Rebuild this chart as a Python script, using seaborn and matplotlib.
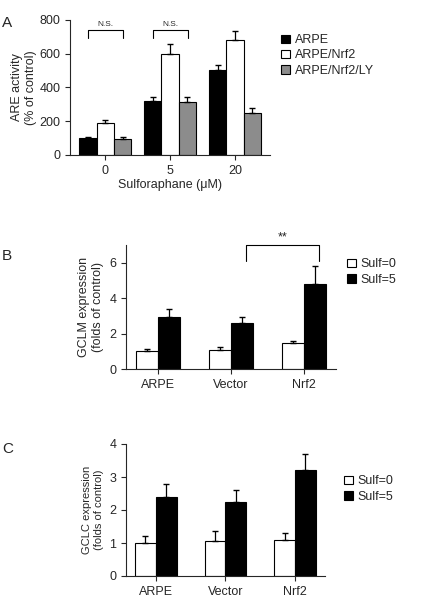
import matplotlib
matplotlib.use("Agg")
import matplotlib.pyplot as plt
import seaborn as sns
import pandas as pd

sns.set_style("ticks")
plt.rcParams['font.family'] = ['Liberation Sans', 'DejaVu Sans']

# Panel A
a_doses = ["0", "5", "20"]
a_groups = ["ARPE", "ARPE/Nrf2", "ARPE/Nrf2/LY"]
a_vals = {"ARPE": [100, 320, 500], "ARPE/Nrf2": [190, 600, 680], "ARPE/Nrf2/LY": [95, 310, 250]}
a_err = {"ARPE": [8, 25, 35], "ARPE/Nrf2": [15, 55, 55], "ARPE/Nrf2/LY": [12, 30, 25]}
a_colors = ["black", "white", "#8c8c8c"]

# Panel B
b_cats = ["ARPE", "Vector", "Nrf2"]
b_groups = ["Sulf=0", "Sulf=5"]
b_vals = {"Sulf=0": [1.0, 1.05, 1.45], "Sulf=5": [2.95, 2.6, 4.8]}
b_err = {"Sulf=0": [0.1, 0.2, 0.12], "Sulf=5": [0.45, 0.35, 1.0]}

# Panel C
c_vals = {"Sulf=0": [1.0, 1.05, 1.1], "Sulf=5": [2.4, 2.25, 3.2]}
c_err = {"Sulf=0": [0.2, 0.3, 0.2], "Sulf=5": [0.4, 0.35, 0.5]}
bc_colors = ["white", "black"]

fig = plt.figure(figsize=(4.39, 6), dpi=100)
axA = fig.add_axes([0.16, 0.742, 0.455, 0.225])
axB = fig.add_axes([0.287, 0.385, 0.478, 0.207])
axC = fig.add_axes([0.287, 0.04, 0.453, 0.22])

legkw = dict(frameon=False, fontsize=9, handlelength=0.7, handleheight=0.7,
             labelspacing=0.25, handletextpad=0.4, borderaxespad=0)

def draw(ax, cats, groups, vals, errs, colors, width):
    df = pd.DataFrame([(c, g, vals[g][i]) for g in groups for i, c in enumerate(cats)],
                      columns=["cat", "grp", "val"])
    sns.barplot(data=df, x="cat", y="val", hue="grp", hue_order=groups, order=cats,
                palette=colors, edgecolor="black", linewidth=0.8, errorbar=None,
                width=width, ax=ax, saturation=1)
    for gi, g in enumerate(groups):
        cont = ax.containers[gi]
        for i, p in enumerate(cont.patches):
            x = p.get_x() + p.get_width() / 2
            ax.errorbar(x, vals[g][i], yerr=[[0], [errs[g][i]]], fmt="none",
                        ecolor="black", capsize=2.5, elinewidth=0.9)
    ax.set_xlabel("")
    sns.despine(ax=ax)
    ax.tick_params(labelsize=9)

draw(axA, a_doses, a_groups, a_vals, a_err, a_colors, 0.8)
axA.set_ylim(0, 800)
axA.set_yticks([0, 200, 400, 600, 800])
axA.set_ylabel("ARE activity\n(% of control)", fontsize=9, labelpad=2)
axA.set_xlabel("Sulforaphane (\u03bcM)", fontsize=9, labelpad=2)
for xc in [0, 1]:
    axA.plot([xc - 0.27, xc - 0.27, xc + 0.27, xc + 0.27], [690, 740, 740, 690], color="black", lw=0.8)
    axA.text(xc, 750, "N.S.", ha="center", va="bottom", fontsize=6)
axA.legend(loc="upper left", bbox_to_anchor=(1.03, 0.93), **legkw)

draw(axB, b_cats, b_groups, b_vals, b_err, bc_colors, 0.6)
axB.set_ylim(0, 7)
axB.set_yticks([0, 2, 4, 6])
axB.set_ylabel("GCLM expression\n(folds of control)", fontsize=9)
axB.plot([1.2, 1.2, 2.2, 2.2], [6.1, 7.0, 7.0, 6.1], color="black", lw=0.8, clip_on=False)
axB.text(1.7, 7.1, "**", ha="center", va="bottom", fontsize=9)
axB.legend(loc="upper left", bbox_to_anchor=(1.03, 0.93), **legkw)

draw(axC, b_cats, b_groups, c_vals, c_err, bc_colors, 0.6)
axC.set_ylim(0, 4)
axC.set_yticks([0, 1, 2, 3, 4])
axC.set_ylabel("GCLC expression\n(folds of control)", fontsize=8)
axC.legend(loc="upper left", bbox_to_anchor=(1.07, 0.80), **legkw)

for lab, y in [("A", 0.955), ("B", 0.567), ("C", 0.245)]:
    fig.text(0.005, y, lab, fontsize=11)

fig.savefig("out.png", dpi=100)
